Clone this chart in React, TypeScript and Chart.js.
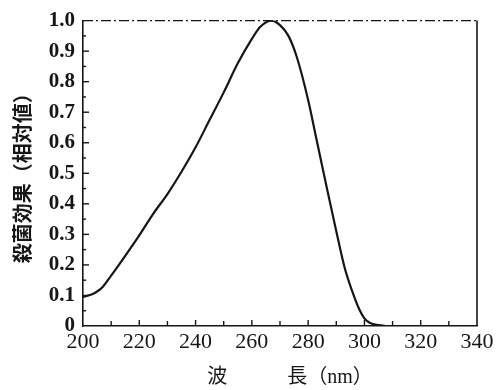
import React, { useEffect, useRef } from "react";
import { Chart, registerables } from "chart.js";

Chart.register(...registerables);

// Wavelength (nm) and relative germicidal effect
const wavelengths = [200, 203, 205, 207, 210, 215, 220, 225, 230, 235, 240, 245, 250, 255, 260, 263, 267, 270, 273, 276, 280, 283, 286, 290, 293, 296, 298, 300, 302, 305, 308];
const effect = [0.095, 0.103, 0.113, 0.128, 0.165, 0.23, 0.297, 0.368, 0.432, 0.505, 0.585, 0.675, 0.765, 0.86, 0.94, 0.98, 1.0, 0.985, 0.95, 0.88, 0.74, 0.61, 0.48, 0.31, 0.19, 0.105, 0.058, 0.025, 0.01, 0.003, 0];

const xTickMarks = [210, 220, 230, 240, 250, 260, 270, 280, 290, 300, 310, 320, 330];
const yTickMarks = [0.05, 0.1, 0.15, 0.2, 0.25, 0.3, 0.35, 0.4, 0.45, 0.5, 0.55, 0.6, 0.65, 0.7, 0.75, 0.8, 0.85, 0.9, 0.95];

const xTitle = "　波　　　長（nm）";
const yTitle = "殺菌効果（相対値）";

const INK = "#161616";

const framePlugin = {
  id: "frameTicks",
  afterDraw(chart: any) {
    const { ctx, chartArea, scales } = chart;
    const xs = scales.x;
    const ys = scales.y;
    ctx.save();
    ctx.strokeStyle = INK;
    // right border
    ctx.lineWidth = 1.6;
    ctx.beginPath();
    ctx.moveTo(chartArea.right, ys.getPixelForValue(1));
    ctx.lineTo(chartArea.right, ys.getPixelForValue(0));
    ctx.stroke();
    // top dash-dot border
    ctx.lineWidth = 1.3;
    ctx.setLineDash([10, 3, 2, 3]);
    ctx.beginPath();
    ctx.moveTo(chartArea.left, ys.getPixelForValue(1));
    ctx.lineTo(chartArea.right, ys.getPixelForValue(1));
    ctx.stroke();
    ctx.setLineDash([]);
    // inward ticks
    ctx.lineWidth = 1.4;
    const by = ys.getPixelForValue(0);
    xTickMarks.forEach((v) => {
      const px = xs.getPixelForValue(v);
      const len = v % 20 === 0 ? 6 : 5;
      ctx.beginPath();
      ctx.moveTo(px, by);
      ctx.lineTo(px, by - len);
      ctx.stroke();
    });
    const lx = xs.getPixelForValue(200);
    yTickMarks.forEach((v) => {
      const py = ys.getPixelForValue(v);
      const major = Math.abs(v * 10 - Math.round(v * 10)) < 1e-6;
      const len = major ? 6 : 3;
      ctx.beginPath();
      ctx.moveTo(lx, py);
      ctx.lineTo(lx + len, py);
      ctx.stroke();
    });
    ctx.restore();
  },
};

export default function App() {
  const ref = useRef<HTMLCanvasElement | null>(null);
  useEffect(() => {
    document.body.style.margin = "0";
    const canvas = ref.current;
    if (!canvas) return;
    const chart = new Chart(canvas, {
      type: "line",
      data: {
        datasets: [
          {
            data: wavelengths.map((w, i) => ({ x: w, y: effect[i] })),
            borderColor: INK,
            borderWidth: 2.2,
            pointRadius: 0,
            fill: false,
            cubicInterpolationMode: "monotone",
          },
        ],
      },
      options: {
        responsive: false,
        animation: false,
        layout: { padding: { top: 20, right: 26, left: 0, bottom: 0 } },
        plugins: { legend: { display: false }, tooltip: { enabled: false } },
        scales: {
          x: {
            type: "linear",
            min: 200,
            max: 340,
            grid: { display: false, drawTicks: false },
            border: { display: true, color: INK, width: 1.6 },
            ticks: {
              stepSize: 20,
              color: INK,
              padding: 3,
              font: { family: "'Liberation Serif', serif", size: 22 },
              callback: (v: any) => String(v),
            },
            title: {
              display: true,
              text: xTitle,
              color: INK,
              font: { family: "'Liberation Serif', 'Noto Sans CJK JP', serif", size: 20 },
              padding: { top: 4, bottom: 0 },
            },
            afterFit: (s: any) => {
              s.height = 64;
            },
          },
          y: {
            type: "linear",
            min: 0,
            max: 1,
            grid: { display: false, drawTicks: false },
            border: { display: true, color: INK, width: 1.6 },
            ticks: {
              stepSize: 0.1,
              color: INK,
              padding: 8,
              font: { family: "'Liberation Serif', serif", size: 21, weight: "bold" },
              callback: (v: any) => (v === 0 ? "0" : Number(v).toFixed(1)),
            },
            title: {
              display: true,
              text: yTitle,
              color: INK,
              font: { family: "'Noto Sans CJK JP', sans-serif", size: 20, weight: "bold" },
              padding: { top: 10, bottom: 0 },
            },
            afterFit: (s: any) => {
              s.width = 83;
            },
          },
        },
      },
      plugins: [framePlugin],
    });
    return () => chart.destroy();
  }, []);
  return (
    <div style={{ position: "absolute", left: 0, top: 0, width: 503, height: 390, background: "#fff" }}>
      <canvas ref={ref} width={503} height={390} />
    </div>
  );
}
